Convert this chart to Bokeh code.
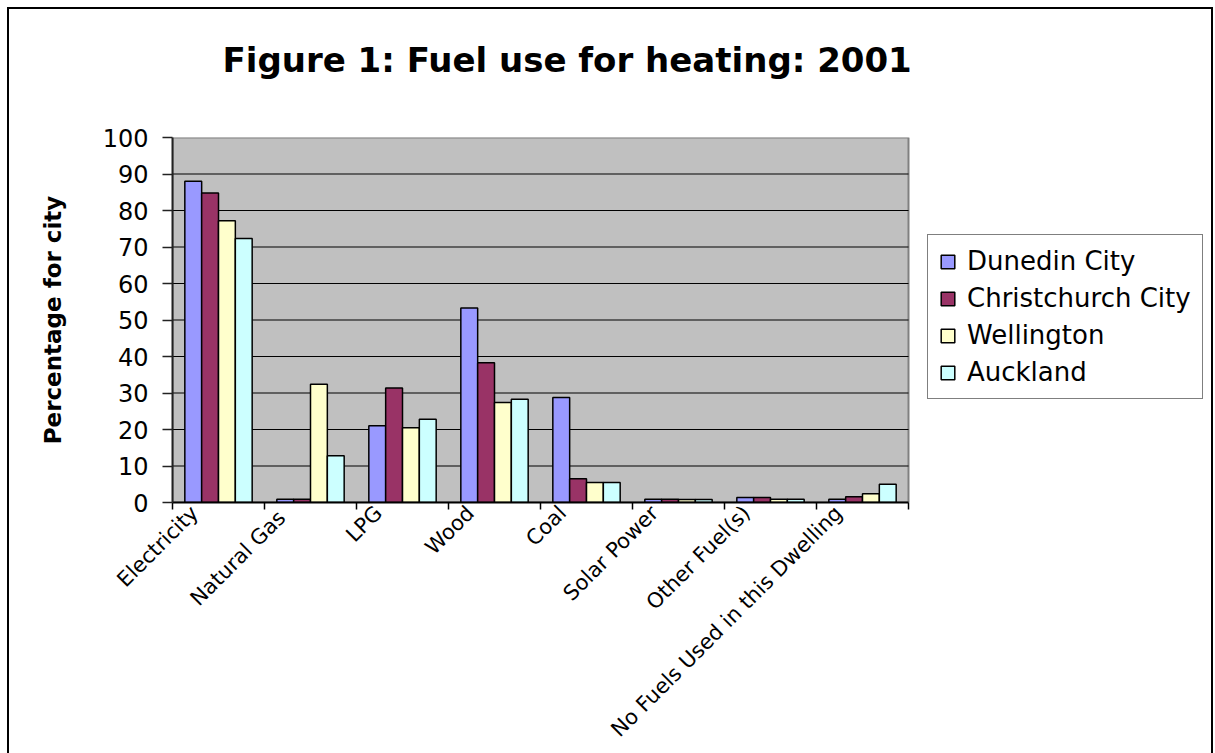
import numpy as np
from bokeh.plotting import figure
from bokeh.models import (Range1d, FixedTicker, Legend, LegendItem,
                          ColumnDataSource, InlineStyleSheet, Title)
from bokeh.transform import dodge
from bokeh.embed import file_html
from bokeh.resources import INLINE

# ---------------- data ----------------
categories = ["Electricity", "Natural  Gas", "LPG", "Wood", "Coal", "Solar Power",
              "Other Fuel(s)", "No Fuels Used in this Dwelling"]
cities = ["Dunedin City", "Christchurch City", "Wellington", "Auckland"]
dunedin = [88.0, 0.9, 21.0, 53.3, 28.8, 0.9, 1.4, 0.9]
christchurch = [84.8, 0.9, 31.4, 38.3, 6.5, 0.9, 1.4, 1.6]
wellington = [77.2, 32.4, 20.5, 27.4, 5.5, 0.8, 0.9, 2.4]
auckland = [72.3, 12.8, 22.8, 28.3, 5.5, 0.8, 0.9, 5.0]
y_ticks = list(range(0, 101, 10))

colors = ["#9999FF", "#993366", "#FFFFCC", "#CCFFFF"]
FONT = "DejaVu Sans"

n = len(categories)
pos = np.arange(n) + 0.5
src = ColumnDataSource(dict(pos=pos, cat=categories, d=dunedin, c=christchurch,
                            w=wellington, a=auckland))
series_cols = ["d", "c", "w", "a"]

# frame spans to the right edge so the legend (outside the grey plot area) is not clipped
FRAME_L, AREA_R, FRAME_R = 172, 908, 1213
x_end = n * (FRAME_R - FRAME_L) / (AREA_R - FRAME_L)

p = figure(width=1215, height=753, output_backend="svg", toolbar_location=None,
           x_range=Range1d(0, x_end), y_range=Range1d(0, y_ticks[-1]),
           min_border_left=FRAME_L, min_border_right=1215 - FRAME_R, min_border_top=137,
           min_border_bottom=251)
p.background_fill_color = "white"
p.border_fill_color = "white"
p.outline_line_color = None
p.title.text = ""

# spacer (closest to the frame) then the real title above it
p.add_layout(Title(text=" ", text_font_size="1px", standoff=55), "above")
p.add_layout(Title(text="Figure 1: Fuel use for heating: 2001", align="left", offset=50,
                   vertical_align="bottom", standoff=0, text_font=FONT,
                   text_font_size="34px", text_font_style="bold", text_color="black"),
             "above")

# grey plot area
p.quad(left=[0], right=[n], bottom=[y_ticks[0]], top=[y_ticks[-1]], fill_color="#C0C0C0",
       line_color="#808080", line_width=2, level="image")
# horizontal gridlines across the plot area only
inner = y_ticks[1:-1]
p.segment(x0=[0] * len(inner), x1=[n] * len(inner), y0=inner, y1=inner,
          line_color="black", line_width=1, level="underlay")

bar_w = 0.183
offsets = [-1.5 * bar_w, -0.5 * bar_w, 0.5 * bar_w, 1.5 * bar_w]
renderers = []
for col, off, colr in zip(series_cols, offsets, colors):
    r = p.vbar(x=dodge("pos", off), top=col, width=bar_w, bottom=0, source=src,
               fill_color=colr, line_color="black", line_width=1.5)
    renderers.append(r)

p.xgrid.visible = False
p.ygrid.visible = False

# y axis
p.yaxis.ticker = FixedTicker(ticks=y_ticks)
p.yaxis.axis_label = "Percentage for city"
p.yaxis.axis_label_text_font = FONT
p.yaxis.axis_label_text_font_size = "23px"
p.yaxis.axis_label_text_font_style = "bold"
p.yaxis.axis_label_text_color = "black"
p.yaxis.axis_label_standoff = 34
p.yaxis.major_label_text_font = FONT
p.yaxis.major_label_text_font_size = "24px"
p.yaxis.major_label_text_color = "black"
p.yaxis.major_tick_out = 10
p.yaxis.major_tick_in = 0
p.yaxis.minor_tick_line_color = None
p.yaxis.major_label_standoff = 14
p.yaxis.axis_line_color = "#222222"
p.yaxis.axis_line_width = 2
p.yaxis.major_tick_line_color = "#222222"
p.yaxis.major_tick_line_width = 1.5

# x axis: ticks at category boundaries (minor), labels slightly left of centres
label_pos = [round(i + 0.24, 2) for i in range(n)]
boundaries = list(range(n + 1))
p.xaxis.bounds = (0, n)
p.xaxis.ticker = FixedTicker(ticks=label_pos, minor_ticks=boundaries)
p.xaxis.major_label_overrides = {lp: c for lp, c in zip(label_pos, categories)}
p.xaxis.major_label_orientation = np.pi / 4
p.xaxis.major_label_text_font = FONT
p.xaxis.major_label_text_font_size = "21px"
p.xaxis.major_label_text_color = "black"
p.xaxis.major_label_standoff = 0
p.xaxis.major_tick_line_color = None
p.xaxis.major_tick_out = 0
p.xaxis.major_tick_in = 0
p.xaxis.minor_tick_line_color = "black"
p.xaxis.minor_tick_line_width = 1.5
p.xaxis.minor_tick_out = 7
p.xaxis.minor_tick_in = 0
p.xaxis.axis_line_color = "black"
p.xaxis.axis_line_width = 2

legend = Legend(items=[LegendItem(label=c, renderers=[r]) for c, r in zip(cities, renderers)],
                location=(755, 103), label_text_font=FONT, label_text_font_size="26px",
                label_text_color="black", glyph_width=17, glyph_height=17,
                label_standoff=11, padding=11, spacing=7, margin=0,
                border_line_color="black", border_line_width=1,
                background_fill_color="white", background_fill_alpha=1)
p.add_layout(legend)

p.stylesheets = [InlineStyleSheet(css=(
    ":host::after{content:'';position:absolute;left:7px;top:7px;width:1206px;"
    "height:746px;border:2px solid #000;border-bottom:none;box-sizing:border-box;"
    "z-index:100;pointer-events:none;}"))]

open("out.html", "w").write(file_html(p, INLINE))
